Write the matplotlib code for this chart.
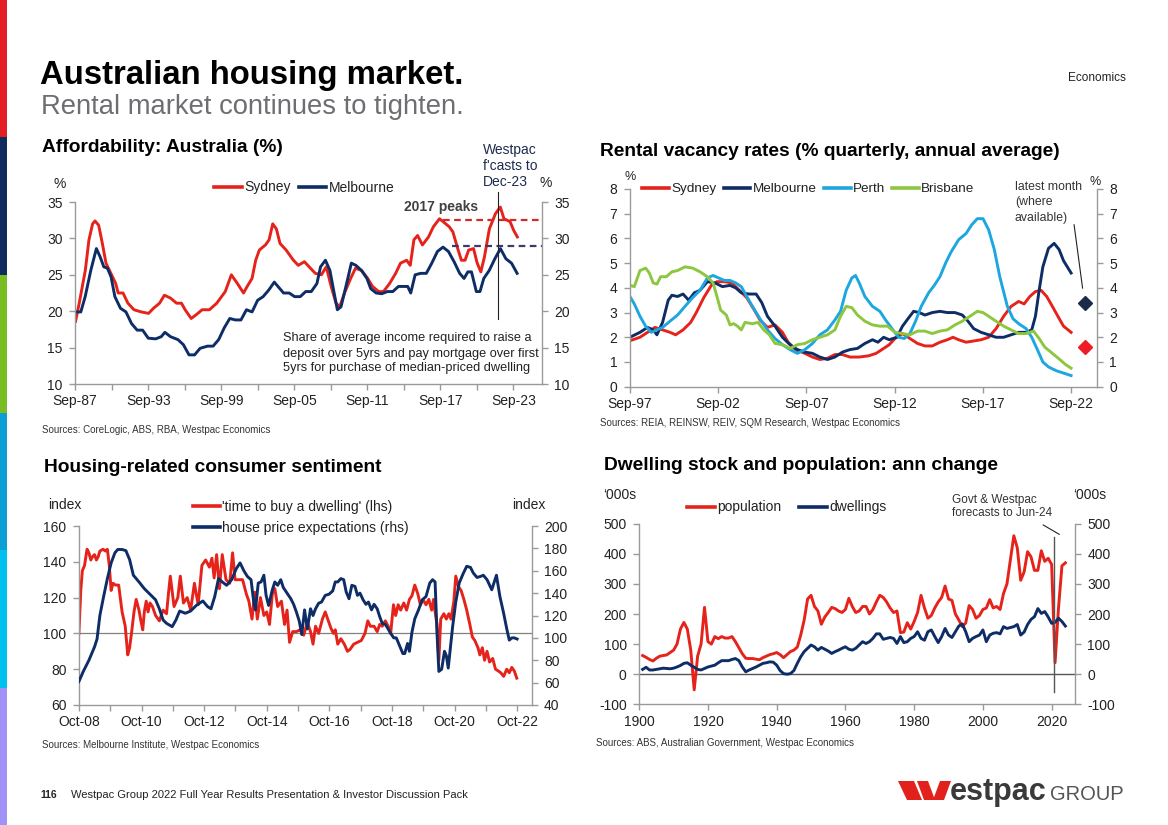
import numpy as np
import matplotlib
matplotlib.use('Agg')
import matplotlib.pyplot as plt
from matplotlib.lines import Line2D
from matplotlib.patches import Rectangle, Polygon

plt.rcParams['font.family'] = ['Liberation Sans', 'DejaVu Sans']
plt.rcParams['axes.unicode_minus'] = False

# ---------------- data ----------------
# Affordability: share of income (%), (decimal year, value)
afford_sydney = [
    (1987.7, 18.6), (1988.0, 21.1), (1988.5, 25.6), (1988.8, 29.8), (1989.1, 32.0), (1989.3, 32.4),
    (1989.6, 31.8), (1989.9, 29.3), (1990.2, 26.6), (1990.6, 25.2), (1991.0, 23.8), (1991.2, 22.5),
    (1991.6, 22.5), (1992.0, 21.1), (1992.5, 20.2), (1993.1, 19.9), (1993.7, 19.7), (1994.1, 20.4),
    (1994.6, 21.1), (1995.0, 22.2), (1995.5, 21.8), (1996.0, 21.1), (1996.4, 21.1), (1996.7, 20.2),
    (1997.2, 19.0), (1997.6, 19.5), (1998.1, 20.2), (1998.7, 20.2), (1999.3, 21.1), (2000.0, 22.7),
    (2000.5, 25.0), (2001.0, 23.8), (2001.5, 22.5), (2001.8, 23.4), (2002.2, 24.5), (2002.5, 27.0),
    (2002.8, 28.4), (2003.3, 29.1), (2003.6, 29.8), (2003.9, 32.0), (2004.2, 31.3), (2004.5, 29.3),
    (2005.0, 28.4), (2005.6, 27.0), (2006.0, 26.3), (2006.5, 26.8), (2007.0, 25.9), (2007.4, 25.2),
    (2007.9, 25.0), (2008.3, 26.1), (2008.7, 23.4), (2009.1, 21.1), (2009.4, 20.6), (2009.8, 22.5),
    (2010.3, 24.5), (2010.7, 25.9), (2011.2, 25.6), (2011.7, 24.5), (2012.1, 23.4), (2012.6, 22.7),
    (2013.0, 22.7), (2013.5, 23.8), (2014.0, 25.2), (2014.4, 26.6), (2014.9, 27.0), (2015.2, 26.3),
    (2015.5, 29.8), (2015.8, 30.4), (2016.2, 29.1), (2016.7, 30.2), (2017.1, 31.6), (2017.6, 32.7),
    (2017.9, 32.3), (2018.4, 31.6), (2018.7, 30.9), (2019.1, 28.6), (2019.4, 27.0), (2019.7, 27.0),
    (2020.0, 28.4), (2020.4, 28.6), (2020.7, 26.6), (2021.0, 25.4), (2021.3, 27.5), (2021.7, 31.3),
    (2022.2, 33.4), (2022.6, 34.3), (2022.9, 32.7), (2023.4, 32.3), (2023.7, 31.1), (2024.0, 30.2),
]
afford_melbourne = [
    (1987.67, 19.9), (1988.13, 19.9), (1988.49, 22.0), (1988.95, 25.6), (1989.41, 28.6), (1989.71, 27.5),
    (1990.02, 26.1), (1990.32, 25.9), (1990.62, 24.7), (1990.93, 22.0), (1991.39, 20.4), (1991.84, 19.9),
    (1992.30, 18.3), (1992.76, 17.4), (1993.21, 17.4), (1993.67, 16.3), (1994.28, 16.2), (1994.74, 16.5),
    (1995.04, 17.1), (1995.50, 16.5), (1996.11, 16.1), (1996.56, 15.4), (1997.02, 14.0), (1997.48, 14.0),
    (1997.93, 14.9), (1998.54, 15.2), (1999.00, 15.2), (1999.46, 16.1), (1999.91, 17.7), (2000.37, 19.0),
    (2000.83, 18.8), (2001.29, 18.8), (2001.74, 20.2), (2002.20, 19.9), (2002.66, 21.5), (2003.11, 22.0),
    (2003.57, 22.9), (2004.03, 24.0), (2004.33, 23.4), (2004.79, 22.5), (2005.25, 22.5), (2005.70, 22.0),
    (2006.16, 22.0), (2006.61, 22.7), (2007.07, 22.7), (2007.53, 23.8), (2007.83, 26.1), (2008.23, 27.0),
    (2008.60, 25.6), (2008.90, 22.9), (2009.21, 20.2), (2009.51, 20.6), (2009.97, 23.8), (2010.36, 26.6),
    (2010.73, 26.3), (2011.19, 25.6), (2011.64, 24.5), (2011.95, 23.1), (2012.40, 22.5), (2012.86, 22.4),
    (2013.32, 22.7), (2013.77, 22.7), (2014.23, 23.4), (2014.69, 23.4), (2014.99, 23.4), (2015.24, 22.5),
    (2015.60, 25.0), (2016.06, 25.2), (2016.52, 25.2), (2016.97, 26.6), (2017.43, 28.2), (2017.89, 28.8),
    (2018.34, 28.2), (2018.80, 26.8), (2019.26, 25.2), (2019.62, 24.5), (2019.93, 25.4), (2020.23, 25.4),
    (2020.63, 22.7), (2020.93, 22.7), (2021.24, 24.5), (2021.69, 25.6), (2022.15, 27.2), (2022.61, 28.6),
    (2023.06, 27.2), (2023.52, 26.6), (2023.98, 25.2),
]
afford_ticks = [1987.67, 1993.67, 1999.67, 2005.67, 2011.67, 2017.67, 2023.67]
afford_labels = ['Sep-87', 'Sep-93', 'Sep-99', 'Sep-05', 'Sep-11', 'Sep-17', 'Sep-23']
peak_sydney = 32.5
peak_melbourne = 28.9

# Rental vacancy rates (%)
vac_sydney = [
    (1997.67, 1.86), (1998.24, 2.0), (1998.67, 2.2), (1999.09, 2.4), (1999.52, 2.3), (1999.94, 2.2),
    (2000.26, 2.1), (2000.68, 2.3), (2001.11, 2.6), (2001.43, 3.0), (2001.85, 3.6), (2002.28, 4.1),
    (2002.60, 4.25), (2003.02, 4.25), (2003.45, 4.2), (2003.87, 3.9), (2004.29, 3.6), (2004.72, 3.1),
    (2005.04, 2.7), (2005.46, 2.4), (2005.89, 2.5), (2006.31, 2.2), (2006.63, 1.8), (2007.05, 1.5),
    (2007.58, 1.35), (2008.01, 1.2), (2008.43, 1.1), (2008.86, 1.15), (2009.28, 1.3), (2009.71, 1.3),
    (2010.13, 1.2), (2010.66, 1.2), (2011.19, 1.25), (2011.62, 1.35), (2011.94, 1.5), (2012.36, 1.7),
    (2012.68, 1.95), (2013.11, 2.15), (2013.53, 1.95), (2013.96, 1.75), (2014.38, 1.65), (2014.80, 1.65),
    (2015.23, 1.8), (2015.65, 1.9), (2015.97, 2.0), (2016.29, 1.9), (2016.71, 1.8), (2017.14, 1.85),
    (2017.56, 1.9), (2017.99, 2.0), (2018.41, 2.35), (2018.84, 2.85), (2019.26, 3.25), (2019.69, 3.45),
    (2020.00, 3.35), (2020.32, 3.65), (2020.64, 3.85), (2020.96, 3.9), (2021.28, 3.65), (2021.60, 3.25),
    (2021.91, 2.85), (2022.23, 2.45), (2022.66, 2.2),
]
vac_melbourne = [
    (1997.67, 2.0), (1998.24, 2.2), (1998.67, 2.4), (1998.99, 2.3), (1999.20, 2.1), (1999.52, 2.6),
    (1999.84, 3.5), (2000.05, 3.7), (2000.37, 3.65), (2000.68, 3.75), (2001.00, 3.5), (2001.32, 3.8),
    (2001.64, 3.9), (2002.06, 4.25), (2002.49, 4.2), (2002.91, 4.05), (2003.34, 4.1), (2003.66, 4.0),
    (2003.98, 3.8), (2004.40, 3.75), (2004.82, 3.75), (2005.14, 3.4), (2005.46, 2.85), (2005.89, 2.45),
    (2006.31, 2.0), (2006.74, 1.7), (2007.16, 1.5), (2007.58, 1.4), (2008.01, 1.35), (2008.43, 1.2),
    (2008.86, 1.1), (2009.28, 1.2), (2009.71, 1.4), (2010.13, 1.5), (2010.56, 1.55), (2010.98, 1.75),
    (2011.41, 1.9), (2011.72, 1.8), (2012.04, 2.0), (2012.36, 1.9), (2012.79, 2.0), (2013.11, 2.45),
    (2013.42, 2.75), (2013.74, 3.05), (2014.06, 3.0), (2014.38, 2.9), (2014.80, 3.0), (2015.23, 3.05),
    (2015.65, 3.0), (2016.08, 3.0), (2016.50, 2.9), (2016.82, 2.65), (2017.14, 2.35), (2017.56, 2.2),
    (2017.99, 2.1), (2018.41, 2.0), (2018.84, 2.0), (2019.26, 2.1), (2019.69, 2.2), (2020.11, 2.2),
    (2020.43, 2.3), (2020.64, 2.85), (2020.85, 3.9), (2021.06, 4.85), (2021.38, 5.6), (2021.70, 5.8),
    (2021.98, 5.55), (2022.23, 5.1), (2022.66, 4.6),
]
vac_perth = [
    (1997.67, 3.65), (1997.92, 3.35), (1998.24, 2.85), (1998.56, 2.45), (1998.88, 2.2), (1999.20, 2.3),
    (1999.52, 2.4), (1999.94, 2.65), (2000.37, 2.9), (2000.79, 3.25), (2001.22, 3.6), (2001.64, 3.9),
    (2002.06, 4.4), (2002.38, 4.5), (2002.70, 4.4), (2003.02, 4.3), (2003.34, 4.3), (2003.66, 4.2),
    (2003.98, 4.05), (2004.29, 3.65), (2004.61, 3.25), (2005.04, 2.75), (2005.46, 2.3), (2005.89, 1.95),
    (2006.31, 1.7), (2006.74, 1.5), (2007.16, 1.35), (2007.58, 1.5), (2008.01, 1.75), (2008.43, 2.1),
    (2008.86, 2.3), (2009.28, 2.7), (2009.60, 3.05), (2009.92, 3.9), (2010.24, 4.4), (2010.45, 4.5),
    (2010.66, 4.2), (2010.98, 3.65), (2011.41, 3.25), (2011.83, 3.05), (2012.15, 2.7), (2012.57, 2.3),
    (2012.89, 2.0), (2013.21, 1.95), (2013.53, 2.15), (2013.85, 2.65), (2014.17, 3.25), (2014.59, 3.8),
    (2014.91, 4.1), (2015.23, 4.45), (2015.55, 5.0), (2015.86, 5.45), (2016.29, 5.95), (2016.71, 6.2),
    (2017.03, 6.55), (2017.35, 6.8), (2017.67, 6.8), (2017.99, 6.35), (2018.31, 5.55), (2018.62, 4.45),
    (2019.05, 3.25), (2019.37, 2.75), (2019.69, 2.55), (2020.11, 2.35), (2020.43, 2.0), (2020.75, 1.5),
    (2021.06, 1.0), (2021.38, 0.8), (2021.81, 0.65), (2022.23, 0.55), (2022.66, 0.45),
]
vac_brisbane = [
    (1997.67, 4.1), (1997.92, 4.05), (1998.24, 4.7), (1998.56, 4.8), (1998.77, 4.6), (1998.99, 4.2),
    (1999.20, 4.15), (1999.41, 4.45), (1999.73, 4.45), (2000.05, 4.65), (2000.37, 4.7), (2000.79, 4.85),
    (2001.22, 4.8), (2001.64, 4.65), (2002.06, 4.45), (2002.38, 4.2), (2002.60, 3.65), (2002.81, 3.1),
    (2003.13, 2.9), (2003.34, 2.5), (2003.55, 2.55), (2003.76, 2.45), (2003.98, 2.3), (2004.19, 2.6),
    (2004.61, 2.55), (2004.93, 2.6), (2005.25, 2.3), (2005.57, 2.1), (2005.89, 1.75), (2006.31, 1.7),
    (2006.74, 1.55), (2007.16, 1.7), (2007.58, 1.75), (2008.01, 1.9), (2008.43, 2.0), (2008.86, 2.1),
    (2009.28, 2.3), (2009.60, 2.85), (2009.92, 3.25), (2010.24, 3.2), (2010.56, 2.9), (2010.98, 2.65),
    (2011.41, 2.5), (2011.83, 2.45), (2012.26, 2.45), (2012.68, 2.2), (2013.11, 2.15), (2013.53, 2.1),
    (2013.96, 2.25), (2014.38, 2.25), (2014.80, 2.15), (2015.23, 2.25), (2015.65, 2.3), (2016.08, 2.5),
    (2016.50, 2.65), (2016.93, 2.85), (2017.35, 3.05), (2017.67, 3.0), (2017.99, 2.85), (2018.41, 2.65),
    (2018.84, 2.45), (2019.26, 2.3), (2019.69, 2.15), (2020.11, 2.15), (2020.53, 2.25), (2020.85, 1.95),
    (2021.17, 1.6), (2021.60, 1.35), (2022.02, 1.1), (2022.34, 0.9), (2022.66, 0.75),
]
vac_latest_date = 2023.42
vac_latest_melbourne = 3.4
vac_latest_sydney = 1.6
vac_ticks = [1997.67, 2002.67, 2007.67, 2012.67, 2017.67, 2022.67]
vac_labels = ['Sep-97', 'Sep-02', 'Sep-07', 'Sep-12', 'Sep-17', 'Sep-22']

# Consumer sentiment: 'time to buy a dwelling' (lhs)
sent_time_to_buy = [
    (2008.75, 100), (2008.81, 124), (2008.86, 135), (2008.93, 138), (2009.01, 147), (2009.07, 145),
    (2009.13, 141), (2009.19, 143), (2009.25, 144), (2009.31, 141), (2009.37, 143), (2009.42, 146),
    (2009.52, 147), (2009.60, 146), (2009.66, 147), (2009.72, 138), (2009.78, 124), (2009.84, 128),
    (2009.92, 127), (2010.02, 127), (2010.08, 119), (2010.13, 112), (2010.23, 104), (2010.31, 88),
    (2010.37, 92), (2010.43, 100), (2010.51, 112), (2010.58, 119), (2010.67, 113), (2010.73, 107),
    (2010.79, 102), (2010.84, 112), (2010.90, 118), (2010.96, 112), (2011.02, 117), (2011.10, 115),
    (2011.20, 110), (2011.32, 107), (2011.44, 113), (2011.55, 111), (2011.61, 122), (2011.67, 132),
    (2011.79, 115), (2011.91, 120), (2011.99, 132), (2012.09, 117), (2012.21, 120), (2012.32, 113),
    (2012.44, 128), (2012.56, 116), (2012.68, 138), (2012.80, 141), (2012.92, 137), (2013.00, 142),
    (2013.07, 131), (2013.15, 144), (2013.24, 125), (2013.33, 144), (2013.45, 130), (2013.57, 128),
    (2013.66, 145), (2013.74, 130), (2013.86, 130), (2013.98, 130), (2014.10, 122), (2014.18, 118),
    (2014.28, 108), (2014.37, 123), (2014.45, 108), (2014.55, 120), (2014.66, 110), (2014.75, 112),
    (2014.84, 105), (2014.93, 122), (2015.01, 125), (2015.10, 115), (2015.22, 118), (2015.32, 105),
    (2015.40, 113), (2015.48, 95), (2015.58, 101), (2015.70, 101), (2015.81, 102), (2015.93, 99),
    (2016.05, 106), (2016.15, 101), (2016.23, 94), (2016.31, 104), (2016.41, 100), (2016.53, 108),
    (2016.62, 112), (2016.70, 108), (2016.80, 103), (2016.88, 100), (2016.94, 102), (2017.02, 94),
    (2017.12, 97), (2017.23, 94), (2017.33, 90), (2017.41, 91), (2017.53, 94), (2017.65, 95),
    (2017.77, 96), (2017.89, 100), (2017.98, 107), (2018.06, 104), (2018.18, 104), (2018.28, 101),
    (2018.36, 105), (2018.44, 104), (2018.54, 107), (2018.63, 104), (2018.71, 100), (2018.80, 116),
    (2018.87, 110), (2018.95, 116), (2019.03, 113), (2019.13, 117), (2019.22, 113), (2019.31, 119),
    (2019.39, 121), (2019.48, 127), (2019.58, 122), (2019.66, 116), (2019.74, 119), (2019.84, 116),
    (2019.93, 119), (2020.02, 113), (2020.08, 119), (2020.13, 112), (2020.19, 105), (2020.25, 85),
    (2020.31, 108), (2020.41, 111), (2020.49, 108), (2020.57, 111), (2020.64, 108), (2020.73, 118),
    (2020.79, 132), (2020.88, 126), (2020.96, 124), (2021.05, 119), (2021.14, 113), (2021.24, 105),
    (2021.32, 98), (2021.40, 96), (2021.50, 92), (2021.56, 88), (2021.64, 92), (2021.71, 85),
    (2021.79, 90), (2021.87, 84), (2021.97, 86), (2022.06, 80), (2022.15, 79), (2022.23, 78),
    (2022.32, 76), (2022.42, 80), (2022.50, 78), (2022.58, 81), (2022.66, 79), (2022.74, 75),
]
# house price expectations (rhs)
sent_price_exp = [
    (2008.75, 61), (2008.89, 70), (2009.07, 80), (2009.25, 92), (2009.33, 99), (2009.42, 120),
    (2009.54, 137), (2009.66, 153), (2009.78, 167), (2009.90, 176), (2009.99, 179), (2010.13, 179),
    (2010.25, 178), (2010.37, 170), (2010.49, 156), (2010.67, 150), (2010.84, 144), (2011.02, 139),
    (2011.20, 134), (2011.32, 126), (2011.44, 116), (2011.55, 113), (2011.73, 110), (2011.85, 116),
    (2011.97, 124), (2012.15, 122), (2012.32, 124), (2012.50, 129), (2012.71, 133), (2012.86, 128),
    (2012.97, 126), (2013.09, 137), (2013.21, 153), (2013.33, 150), (2013.47, 147), (2013.63, 152),
    (2013.78, 162), (2013.90, 167), (2014.02, 160), (2014.13, 155), (2014.25, 152), (2014.34, 131),
    (2014.39, 125), (2014.48, 149), (2014.57, 150), (2014.66, 156), (2014.73, 138), (2014.81, 129),
    (2014.93, 143), (2015.01, 150), (2015.10, 147), (2015.20, 152), (2015.28, 145), (2015.40, 140),
    (2015.52, 135), (2015.61, 130), (2015.70, 123), (2015.79, 115), (2015.87, 103), (2015.96, 125),
    (2016.05, 108), (2016.15, 126), (2016.23, 120), (2016.31, 126), (2016.41, 131), (2016.50, 132),
    (2016.62, 138), (2016.74, 139), (2016.86, 142), (2016.94, 150), (2017.02, 150), (2017.12, 153),
    (2017.21, 152), (2017.29, 141), (2017.38, 135), (2017.47, 147), (2017.57, 146), (2017.65, 138),
    (2017.73, 140), (2017.83, 134), (2017.92, 130), (2018.00, 132), (2018.10, 125), (2018.18, 130),
    (2018.28, 126), (2018.36, 119), (2018.44, 113), (2018.54, 112), (2018.63, 108), (2018.71, 104),
    (2018.81, 100), (2018.89, 100), (2019.01, 92), (2019.10, 86), (2019.16, 86), (2019.25, 95),
    (2019.31, 88), (2019.39, 105), (2019.48, 117), (2019.60, 125), (2019.72, 134), (2019.84, 137),
    (2019.96, 149), (2020.05, 152), (2020.13, 150), (2020.19, 105), (2020.25, 70), (2020.34, 72),
    (2020.43, 88), (2020.49, 84), (2020.55, 73), (2020.61, 89), (2020.69, 110), (2020.79, 132),
    (2020.90, 149), (2021.02, 157), (2021.14, 164), (2021.26, 163), (2021.35, 158), (2021.47, 154),
    (2021.59, 155), (2021.67, 156), (2021.79, 152), (2021.94, 143), (2022.09, 156), (2022.20, 137),
    (2022.32, 122), (2022.42, 108), (2022.50, 98), (2022.58, 100), (2022.66, 100), (2022.75, 99),
]
sent_ticks = [2008.75, 2010.75, 2012.75, 2014.75, 2016.75, 2018.75, 2020.75, 2022.75]
sent_labels = ['Oct-08', 'Oct-10', 'Oct-12', 'Oct-14', 'Oct-16', 'Oct-18', 'Oct-20', 'Oct-22']

# Dwelling stock and population: annual change ('000s), 1901-2024
pop_years = list(range(1901, 2025))
population = [
    62, 56, 49, 44, 53, 60, 62, 64, 72, 80,
    100, 150, 172, 150, 80, -52, 60, 100, 222, 108,
    100, 125, 118, 125, 120, 120, 125, 108, 88, 68,
    53, 52, 52, 50, 48, 55, 60, 65, 68, 72,
    65, 55, 65, 75, 80, 90, 130, 180, 250, 262,
    225, 210, 166, 190, 205, 222, 218, 210, 205, 215,
    252, 225, 205, 210, 225, 225, 200, 215, 240, 262,
    255, 240, 220, 205, 210, 138, 140, 171, 150, 175,
    205, 262, 220, 186, 195, 220, 240, 255, 293, 250,
    245, 200, 180, 158, 170, 228, 215, 186, 195, 215,
    220, 248, 220, 225, 215, 268, 300, 380, 460, 420,
    312, 340, 407, 390, 345, 345, 410, 375, 385, 365,
    38, 220, 360, 370,
]
dwellings = [
    16, 23, 14, 14, 16, 18, 20, 19, 18, 20,
    24, 29, 36, 38, 30, 23, 16, 14, 19, 24,
    27, 30, 38, 45, 45, 45, 49, 52, 45, 24,
    8, 14, 19, 24, 30, 36, 38, 41, 40, 30,
    12, 2, 0, 2, 12, 36, 58, 75, 86, 97,
    91, 80, 89, 83, 77, 69, 75, 80, 86, 91,
    83, 80, 86, 97, 108, 102, 108, 119, 134, 134,
    116, 119, 122, 119, 102, 125, 105, 108, 119, 125,
    141, 119, 113, 141, 147, 125, 105, 125, 152, 130,
    122, 141, 160, 167, 141, 108, 119, 125, 130, 147,
    108, 130, 136, 138, 134, 158, 152, 155, 158, 165,
    130, 140, 165, 182, 191, 218, 202, 208, 190, 169,
    172, 186, 175, 160,
]
forecast_start = 2020.76

# ---------------- styling ----------------
W, H = 1168, 825
RED = '#e5231b'
NAVY = '#0e2d66'
PERTH = '#1ea6e0'
BRIS = '#8dc63f'
AXC = '#9a9a9a'
TXT = '#222222'
LW = 2.1
TITLE = 13.8
SRC = 7

fig = plt.figure(figsize=(W / 100, H / 100), dpi=100)


def box(l, t, r, b):
    return [l / W, 1 - b / H, (r - l) / W, (b - t) / H]


def ftext(x, y, s, **kw):
    kw.setdefault('va', 'center')
    kw.setdefault('color', TXT)
    fig.text(x / W, 1 - y / H, s, **kw)


def setup(ax, xlim, ylim, yticks, xticks, xlabels, rticks=None, rlim=None, minor=None):
    ax.set_xlim(*xlim)
    ax.set_ylim(*ylim)
    ax.set_yticks(yticks)
    ax.set_xticks(xticks)
    ax.set_xticklabels(xlabels)
    if minor is not None:
        ax.set_xticks(minor, minor=True)
    ax.spines['top'].set_visible(False)
    ax.spines['right'].set_visible(False)
    for s in ('left', 'bottom'):
        ax.spines[s].set_color(AXC)
        ax.spines[s].set_linewidth(1)
    ax.tick_params(which='both', direction='out', color=AXC, length=4, width=1,
                   labelsize=10, labelcolor=TXT)
    ax.tick_params(axis='y', pad=5)
    tw = ax.twinx()
    tw.set_ylim(*(rlim if rlim else ylim))
    tw.set_yticks(rticks if rticks else yticks)
    for s in ('top', 'left', 'bottom'):
        tw.spines[s].set_visible(False)
    tw.spines['right'].set_color(AXC)
    tw.spines['right'].set_linewidth(1)
    tw.tick_params(direction='out', color=AXC, length=4, width=1, labelsize=10,
                   labelcolor=TXT, pad=5)
    return tw


def legend(ax, handles, x, y, ncol, spacing=0.6, lspace=0.5, size=10):
    ax.legend(handles=handles, loc='center left', bbox_to_anchor=(x / W, 1 - y / H),
              bbox_transform=fig.transFigure, ncol=ncol, frameon=False, fontsize=size,
              handlelength=2.0, handletextpad=0.15, columnspacing=spacing,
              borderpad=0, borderaxespad=0, labelspacing=lspace, labelcolor=TXT)


def line(color, label):
    return Line2D([], [], color=color, lw=2.6, label=label)


# ---------------- page furniture ----------------
strip = ['#e31e24', '#0f2c5e', '#78be20', '#0aa0d6', '#00c0f0', '#a093f5']
for i, c in enumerate(strip):
    fig.patches.append(Rectangle((0, 1 - (i + 1) / 6), 7 / W, 1 / 6, transform=fig.transFigure,
                                 color=c, lw=0))

ftext(40, 84, 'Australian housing market.', fontsize=23.7, fontweight='bold', color='black',
      va='baseline')
ftext(41, 114, 'Rental market continues to tighten.', fontsize=19.7, color='#6d6e71',
      va='baseline')
ftext(1126, 78, 'Economics', fontsize=8.5, ha='right')

ftext(40, 795, '116', fontsize=7.5, fontweight='bold',
      family=['Liberation Sans Narrow', 'Liberation Sans'])
ftext(71, 795, 'Westpac Group 2022 Full Year Results Presentation & Investor Discussion Pack',
      fontsize=8, family=['Liberation Sans Narrow', 'Liberation Sans'])

# Westpac logo
for poly in ([(898, 781), (914, 781), (922, 800), (907, 800)],
             [(917, 781), (928, 781), (935, 800), (924, 800)],
             [(940, 781), (951, 781), (944, 800), (933, 800)]):
    fig.patches.append(Polygon([(px / W, 1 - py / H) for px, py in poly], closed=True,
                               transform=fig.transFigure, color='#e3211c', lw=0))
ftext(950, 800, 'estpac', fontsize=22, fontweight='bold', color='#3a3a3a', va='baseline')
ftext(1050, 800, 'GROUP', fontsize=14.5, color='#555555', va='baseline')

# ---------------- panel 1: affordability ----------------
ax1 = fig.add_axes(box(75.2, 202, 541.7, 384))
tw1 = setup(ax1, (1987.67, 2026.0), (10, 35), range(10, 36, 5), afford_ticks, afford_labels,
            minor=np.arange(1987.67, 2026, 3))
x, y = np.array(afford_sydney).T
ax1.plot(x, y, color=RED, lw=LW)
x, y = np.array(afford_melbourne).T
ax1.plot(x, y, color=NAVY, lw=LW)
ax1.hlines(peak_sydney, 2017.9, 2026.0, colors='#d42a2a', linestyles=(0, (3, 2)), lw=1.6)
ax1.hlines(peak_melbourne, 2018.6, 2026.0, colors='#3f3a69', linestyles=(0, (3, 2)), lw=1.6)
ax1.plot([2022.41, 2022.41], [18.9, 36.4], color='#222222', lw=0.8, clip_on=False)
legend(ax1, [line(RED, 'Sydney'), line(NAVY, 'Melbourne')], 214, 187.5, 2)

ftext(42, 148, 'Affordability: Australia (%)', fontsize=TITLE, fontweight='bold', color='black')
ftext(60, 184.5, '%', fontsize=10, ha='center')
ftext(545.5, 183, '%', fontsize=10, ha='center')
ftext(404, 207, '2017 peaks', fontsize=10, fontweight='bold', color='#404040')
ftext(482.5, 150, 'Westpac', fontsize=10, color='#1d2b4f')
ftext(482.5, 166.5, "f'casts to", fontsize=10, color='#1d2b4f')
ftext(482.5, 182.5, 'Dec-23', fontsize=10, color='#1d2b4f')
ftext(283, 338.5, 'Share of average income required to raise a', fontsize=9.2)
ftext(283, 353.5, 'deposit over 5yrs and pay mortgage over first', fontsize=9.2)
ftext(283, 368.5, '5yrs for purchase of median-priced dwelling', fontsize=9.2)
ftext(42, 430, 'Sources: CoreLogic, ABS, RBA, Westpac Economics', fontsize=SRC, color='#333333')

# ---------------- panel 2: rental vacancy ----------------
ax2 = fig.add_axes(box(629.9, 189, 1096.7, 386.7))
tw2 = setup(ax2, (1997.67, 2024.11), (0, 8), range(0, 9), vac_ticks, vac_labels)
for series, col in ((vac_sydney, RED), (vac_melbourne, NAVY), (vac_perth, PERTH),
                    (vac_brisbane, BRIS)):
    x, y = np.array(series).T
    ax2.plot(x, y, color=col, lw=LW)
ax2.plot([vac_latest_date], [vac_latest_melbourne], marker='D', ms=7.5, color='#1d2b4a',
         ls='none')
ax2.plot([vac_latest_date], [vac_latest_sydney], marker='D', ms=7.5, color='#ee1c25', ls='none')
ax2.plot([2022.83, 2023.31], [6.55, 3.99], color='#222222', lw=0.8)
legend(ax2, [line(RED, 'Sydney'), line(NAVY, 'Melbourne'), line(PERTH, 'Perth'),
             line(BRIS, 'Brisbane')], 642, 189, 4, spacing=0.55, size=9.7)

ftext(599.5, 152, 'Rental vacancy rates (% quarterly, annual average)', fontsize=TITLE,
      fontweight='bold', color='black')
ftext(630.5, 177, '%', fontsize=9, ha='center')
ftext(1095.5, 182, '%', fontsize=9, ha='center')
ftext(1015, 187, 'latest month', fontsize=8.8, color='#333333')
ftext(1015, 202.5, '(where', fontsize=8.8, color='#333333')
ftext(1015, 218, 'available)', fontsize=8.8, color='#333333')
ftext(599.5, 423, 'Sources: REIA, REINSW, REIV, SQM Research, Westpac Economics', fontsize=SRC,
      color='#333333')

# ---------------- panel 3: consumer sentiment ----------------
ax3 = fig.add_axes(box(78.9, 526, 531.5, 705))
tw3 = setup(ax3, (2008.75, 2023.21), (60, 160), range(60, 161, 20), sent_ticks, sent_labels,
            rticks=range(40, 201, 20), rlim=(40, 200), minor=np.arange(2008.75, 2023.2, 1))
ax3.axhline(100, color='#808080', lw=0.9)
x, y = np.array(sent_time_to_buy).T
ax3.plot(x, y, color=RED, lw=LW)
x, y = np.array(sent_price_exp).T
tw3.plot(x, y, color=NAVY, lw=LW)
legend(tw3, [line(RED, "'time to buy a dwelling' (lhs)"),
             line(NAVY, 'house price expectations (rhs)')], 192.5, 517.5, 1, lspace=0.55)

ftext(44.5, 467, 'Housing-related consumer sentiment', fontsize=TITLE, fontweight='bold',
      color='black')
ftext(65, 505, 'index', fontsize=10, ha='center')
ftext(529, 505, 'index', fontsize=10, ha='center')
ftext(42.5, 745, 'Sources: Melbourne Institute, Westpac Economics', fontsize=SRC, color='#333333')

# ---------------- panel 4: dwellings and population ----------------
ax4 = fig.add_axes(box(639.2, 523.7, 1075, 704.3))
tw4 = setup(ax4, (1900, 2026.8), (-100, 500), range(-100, 501, 100),
            [1900, 1920, 1940, 1960, 1980, 2000, 2020],
            ['1900', '1920', '1940', '1960', '1980', '2000', '2020'])
ax4.axhline(0, color='#555555', lw=1)
ax4.plot(pop_years, population, color=RED, lw=LW)
ax4.plot(pop_years, dwellings, color=NAVY, lw=LW)
ax4.plot([forecast_start, forecast_start], [-58, 457], color='#555555', lw=1)
ax4.plot([2017.56, 2022.2], [495.7, 464.8], color='#222222', lw=0.8)
legend(ax4, [line(RED, 'population'), line(NAVY, 'dwellings')], 687, 507.5, 2, spacing=1.3)

ftext(604.5, 466, 'Dwelling stock and population: ann change', fontsize=TITLE, fontweight='bold',
      color='black')
ftext(619.5, 495, '\u2018000s', fontsize=10, ha='center')
ftext(1090, 495, '\u2018000s', fontsize=10, ha='center')
ftext(952.5, 500, 'Govt & Westpac', fontsize=8.5, color='#333333')
ftext(952.5, 513.5, 'forecasts to Jun-24', fontsize=8.5, color='#333333')
ftext(595.5, 743.5, 'Sources: ABS, Australian Government, Westpac Economics', fontsize=SRC,
      color='#333333')

fig.savefig('out.png', dpi=100)
